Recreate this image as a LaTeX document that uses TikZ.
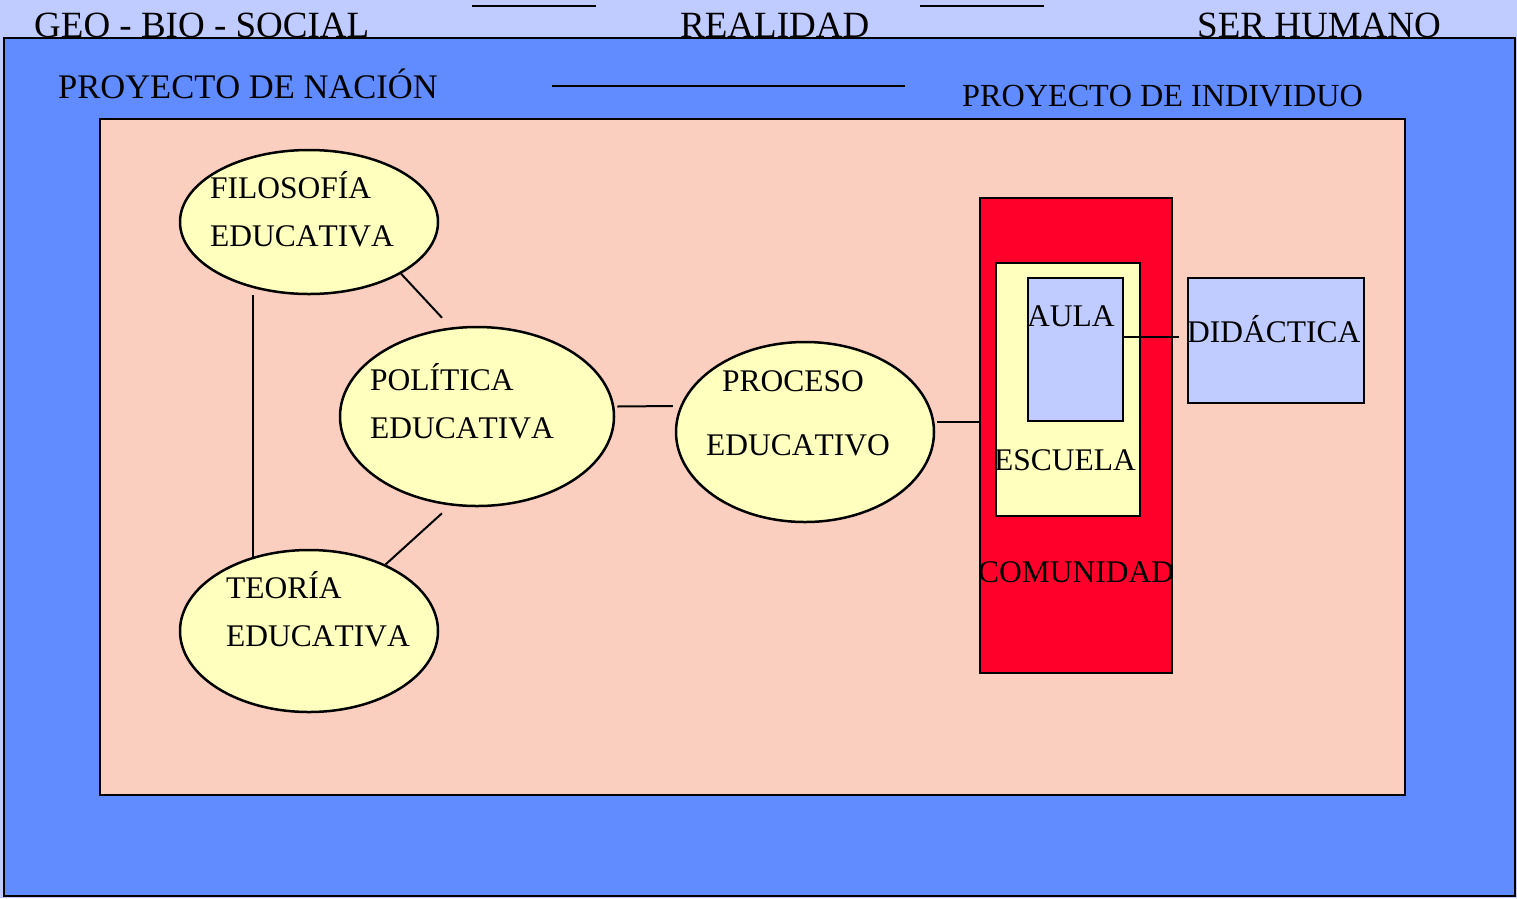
\documentclass[tikz,border=0pt]{standalone}
\usepackage{fontspec}
\setmainfont{Liberation Serif}[Kerning=Off]
\usetikzlibrary{shapes.geometric,calc}

\definecolor{lavender}{RGB}{192,203,255}
\definecolor{outerblue}{RGB}{96,140,255}
\definecolor{pinkbg}{RGB}{251,207,192}
\definecolor{paleyellow}{RGB}{255,255,190}
\definecolor{comred}{RGB}{255,0,42}

\begin{document}
\begin{tikzpicture}[x=1pt, y=-1pt,
  txt/.style={anchor=base west, inner sep=0pt, font=\fontsize{31.5}{38}\selectfont},
  toptxt/.style={txt, font=\fontsize{37}{44}\selectfont},
  projtxt/.style={txt, font=\fontsize{34.5}{40}\selectfont},
  elli/.style={ellipse, draw=black, line width=2.5pt, fill=paleyellow, inner sep=0pt},
  box/.style={rectangle, draw=black, line width=2.5pt, inner sep=0pt},
  link/.style={line width=2pt}]

\useasboundingbox (0,0) rectangle (1517,898);

% fondo y marcos
\fill[lavender] (0,0) rectangle (1517,898);
\filldraw[fill=outerblue, line width=2.5pt] (4,38) rectangle (1515,896);
\filldraw[fill=pinkbg, line width=2.5pt] (100,119) rectangle (1405,795);

% fila superior
\node[toptxt] (geo) at (34,37) {GEO - BIO - SOCIAL};
\node[toptxt] (real) at (680,37) {REALIDAD};
\node[toptxt] (ser) at (1197,37) {SER HUMANO};
\coordinate (t1a) at (472,6);
\coordinate (t1b) at (596,6);
\coordinate (t2a) at (920,6);
\coordinate (t2b) at (1044,6);
\draw[link, line width=2.5pt] (t1a) -- (t1b);
\draw[link, line width=2.5pt] (t2a) -- (t2b);

\node[projtxt] (nacion) at (58,98) {PROYECTO DE NACIÓN};
\node[projtxt, font=\fontsize{32.2}{40}\selectfont] (indiv) at (962,106) {PROYECTO DE INDIVIDUO};
\coordinate (p1) at (552,86);
\coordinate (p2) at (905,86);
\draw[link, line width=2.5pt] (p1) -- (p2);

% elipses
\node[elli, minimum width=258, minimum height=144] (fil) at (309,222) {};
\node[txt] (fil1) at (210,198) {FILOSOFÍA};
\node[txt] (fil2) at (210,246) {EDUCATIVA};

\node[elli, minimum width=274, minimum height=179] (pol) at (477,416.5) {};
\node[txt] (pol1) at (370,390) {POLÍTICA};
\node[txt] (pol2) at (370,438) {EDUCATIVA};

\node[elli, minimum width=258, minimum height=162] (teo) at (309,631) {};
\node[txt] (teo1) at (226,598) {TEORÍA};
\node[txt] (teo2) at (226,646) {EDUCATIVA};

\node[elli, minimum width=258, minimum height=180] (pro) at (805,432) {};
\node[txt] (pro1) at (722,391) {PROCESO};
\node[txt] (pro2) at (706,455) {EDUCATIVO};

% cajas
\node[box, fill=comred, minimum width=192, minimum height=475] (com) at (1076,435.5) {};
\node[box, fill=paleyellow, minimum width=144, minimum height=253] (esc) at (1068,389.5) {};
\node[box, fill=lavender, minimum width=95, minimum height=143] (aula) at (1075.5,349.5) {};
\node[box, fill=lavender, minimum width=176, minimum height=125] (did) at (1276,340.5) {};
\node[txt] (comtxt) at (978,582) {COMUNIDAD};
\node[txt] (esctxt) at (994,470) {ESCUELA};
\node[txt] (aulatxt) at (1027,326) {AULA};
\node[txt] (didtxt) at (1187,342) {DIDÁCTICA};

% conectores
\draw[link] (fil.south east) -- ($(pol.north)+(-35,-8)$);
\draw[link] ($(fil.south)+(-56,0)$) -- ($(teo.north)+(-56,8)$);
\draw[link] ($(pol.south)+(-35,6)$) -- (teo.41);
\draw[link] ($(pol.east)+(2,-10)$) -- ($(pro.west)+(-2,-26)$);
\draw[link] ($(pro.east)+(2,-10)$) -- ($(com.west)+(0,-13.5)$);
\draw[link] ($(aula.east)+(-2,-12.5)$) -- ($(did.west)+(-8,-3.5)$);
\end{tikzpicture}
\end{document}
